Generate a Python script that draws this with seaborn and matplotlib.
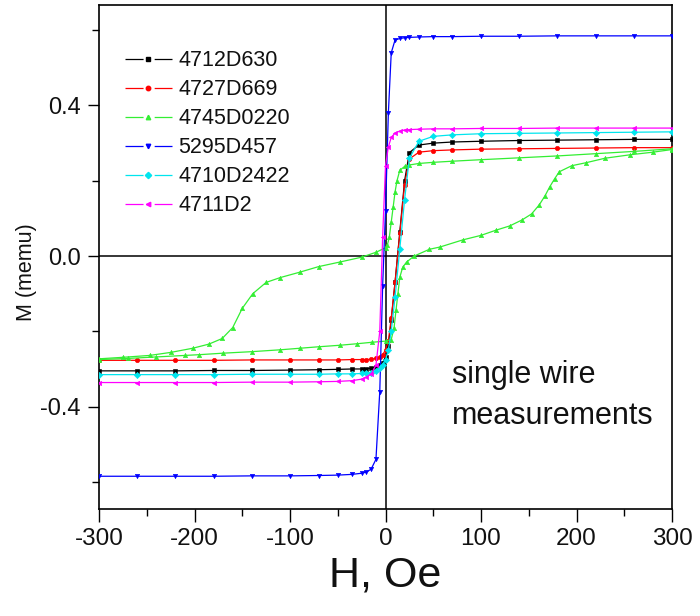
import matplotlib
matplotlib.use('Agg')
import matplotlib.pyplot as plt
import seaborn as sns
from matplotlib.lines import Line2D
from matplotlib.ticker import MultipleLocator

sns.set_style('ticks')
plt.rcParams['font.family'] = ['Liberation Sans', 'DejaVu Sans']
plt.rcParams['axes.unicode_minus'] = False
plt.rcParams['lines.scale_dashes'] = False
for k in ['text.color', 'axes.labelcolor', 'xtick.color', 'ytick.color']:
    plt.rcParams[k] = '#111111'

# ---------------- data ----------------
H_grid = [-300, -260, -220, -180, -140, -100, -70, -50, -35, -25, -20, -15, -10, -6, -3,
          0, 3, 6, 10, 15, 20, 25, 35, 50, 70, 100, 140, 180, 220, 260, 300]

M_4712D630 = [-0.305, -0.305, -0.305, -0.304, -0.304, -0.303, -0.302, -0.301, -0.300, -0.300, -0.299, -0.298,
              -0.295, -0.290, -0.283, -0.268, -0.240, -0.170, -0.070, 0.065, 0.200, 0.275, 0.295, 0.300,
              0.303, 0.305, 0.307, 0.308, 0.309, 0.310, 0.310]
M_4727D669 = [-0.277, -0.277, -0.277, -0.277, -0.276, -0.276, -0.276, -0.276, -0.275, -0.275, -0.275, -0.274,
              -0.272, -0.268, -0.262, -0.250, -0.225, -0.165, -0.070, 0.060, 0.190, 0.258, 0.276, 0.280,
              0.282, 0.284, 0.285, 0.286, 0.287, 0.288, 0.288]
M_5295D457 = [-0.585, -0.585, -0.585, -0.585, -0.584, -0.584, -0.583, -0.582, -0.580, -0.577, -0.574, -0.566,
              -0.540, -0.360, -0.080, 0.120, 0.380, 0.540, 0.574, 0.578, 0.580, 0.581, 0.582, 0.583,
              0.583, 0.584, 0.584, 0.585, 0.585, 0.585, 0.585]
M_4710D2422 = [-0.315, -0.315, -0.315, -0.315, -0.314, -0.314, -0.314, -0.313, -0.313, -0.312, -0.312, -0.310,
               -0.305, -0.298, -0.290, -0.275, -0.250, -0.200, -0.110, 0.020, 0.150, 0.260, 0.305, 0.318,
               0.322, 0.325, 0.326, 0.327, 0.328, 0.329, 0.330]
M_4711D2 = [-0.336, -0.336, -0.336, -0.336, -0.335, -0.335, -0.334, -0.333, -0.331, -0.327, -0.322, -0.313,
            -0.290, -0.200, 0.050, 0.240, 0.290, 0.315, 0.327, 0.332, 0.335, 0.336, 0.337, 0.338,
            0.338, 0.339, 0.339, 0.340, 0.340, 0.340, 0.340]

# 4745D0220 : descending branch (+300 -> -300)
H_4745_down = [300, 260, 220, 180, 140, 100, 70, 50, 35, 25, 20, 15, 12, 10, 8, 6, 4, 2, 0, -10, -25, -48,
               -70, -90, -110, -125, -139, -150, -160, -171, -185, -202, -225, -247, -275, -300]
M_4745_down = [0.285, 0.278, 0.272, 0.266, 0.261, 0.256, 0.252, 0.249, 0.246, 0.242, 0.238, 0.228, 0.200,
               0.170, 0.130, 0.090, 0.050, 0.030, 0.022, 0.010, -0.003, -0.016, -0.028, -0.043, -0.057,
               -0.070, -0.100, -0.139, -0.190, -0.219, -0.234, -0.245, -0.256, -0.264, -0.269, -0.273]
# 4745D0220 : ascending branch (-300 -> +300)
H_4745_up = [-300, -270, -240, -210, -195, -170, -140, -110, -90, -70, -48, -30, -14, 0, 6, 9, 11, 13, 15,
             18, 22, 30, 46, 57, 81, 100, 116, 130, 143, 153, 161, 167, 172, 177, 182, 195, 210, 230, 256,
             280, 300]
M_4745_up = [-0.275, -0.272, -0.268, -0.264, -0.262, -0.258, -0.254, -0.249, -0.245, -0.241, -0.237, -0.233,
             -0.229, -0.226, -0.222, -0.190, -0.144, -0.100, -0.056, -0.030, -0.016, 0.000, 0.018, 0.024,
             0.043, 0.055, 0.069, 0.080, 0.096, 0.112, 0.136, 0.160, 0.184, 0.205, 0.224, 0.240, 0.248,
             0.260, 0.269, 0.276, 0.283]

series_names = ['4712D630', '4727D669', '4745D0220', '5295D457', '4710D2422', '4711D2']
series_colors = ['#000000', '#ff0000', '#33ee33', '#0000ff', '#00e5ee', '#ff00ff']
series_markers = ['s', 'o', '^', 'v', 'D', '<']

x_ticks = [-300, -200, -100, 0, 100, 200, 300]
x_tick_labels = ['-300', '-200', '-100', '0', '100', '200', '300']
y_ticks = [-0.4, 0.0, 0.4]
y_tick_labels = ['-0.4', '0.0', '0.4']

# ---------------- figure ----------------
fig = plt.figure(figsize=(7.0, 6.16), dpi=100)
L, R, T, B = 99, 672, 5, 509
ax = fig.add_axes([L / 700, 1 - B / 616, (R - L) / 700, (B - T) / 616])

ax.axhline(0, color='black', lw=1.1, zorder=1)
ax.axvline(0, color='black', lw=1.1, zorder=1)

curves = [
    (H_grid, M_4712D630, 0),
    (H_grid, M_4727D669, 1),
    (H_4745_down, M_4745_down, 2),
    (H_4745_up, M_4745_up, 2),
    (H_grid, M_5295D457, 3),
    (H_grid, M_4710D2422, 4),
    (H_grid, M_4711D2, 5),
]
for hx, my, i in curves:
    c = series_colors[i]
    sns.lineplot(x=hx, y=my, ax=ax, sort=False, estimator=None, color=c, lw=0.9,
                 marker=series_markers[i], markersize=3.2, markeredgecolor=c,
                 markeredgewidth=0.4, legend=False, zorder=3)

ax.set_xlim(-300, 300)
ax.set_ylim(-0.672, 0.667)
ax.set_xticks(x_ticks)
ax.set_xticklabels(x_tick_labels, fontsize=17.5)
ax.set_yticks(y_ticks)
ax.set_yticklabels(y_tick_labels, fontsize=17)
ax.xaxis.set_minor_locator(MultipleLocator(50))
ax.yaxis.set_minor_locator(MultipleLocator(0.2))
ax.tick_params(axis='x', which='major', direction='out', length=9, width=1.0, color='black',
               top=False, pad=5)
ax.tick_params(axis='y', which='major', direction='out', length=8, width=1.0, color='black',
               right=False, pad=5)
ax.tick_params(which='minor', direction='out', length=5, width=1.0, color='black',
               top=False, right=False)
for s in ax.spines.values():
    s.set_color('black')
    s.set_linewidth(1.2)
    s.set_visible(True)

ax.set_xlabel('H, Oe', fontsize=31)
ax.xaxis.set_label_coords(0.5, -0.093)
ax.set_ylabel('M (memu)', fontsize=15.5)
ax.yaxis.set_label_coords(-0.108, 0.47)

ax.text(0.616, 0.225, 'single wire\nmeasurements', transform=ax.transAxes,
        ha='left', va='center', fontsize=22, linespacing=1.45)

handles = [Line2D([], [], color=c, lw=0.9, linestyle=(0, (13, 8)), marker=m,
                  markersize=3.2, markeredgecolor=c)
           for c, m in zip(series_colors, series_markers)]
ax.legend(handles, series_names, loc='upper left', bbox_to_anchor=(0.045, 0.910),
          frameon=False, handlelength=2.19, handletextpad=0.3,
          labelspacing=0.37, borderpad=0, borderaxespad=0,
          prop={'family': ['Liberation Sans'], 'size': 15.5})

fig.savefig('out.png', dpi=100)
